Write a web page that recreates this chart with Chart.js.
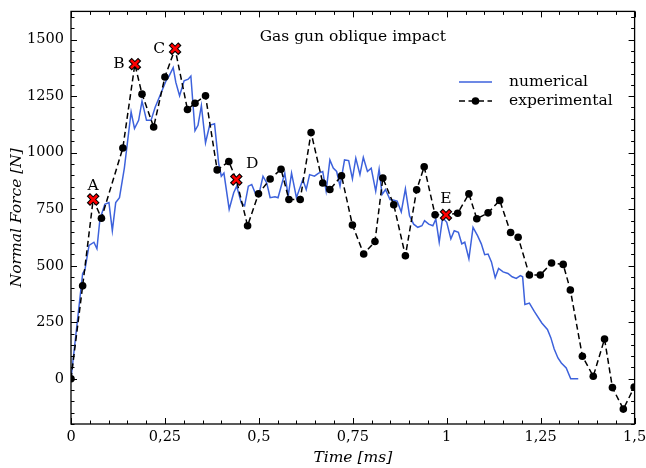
<!DOCTYPE html>
<html><head><meta charset="utf-8">
<script src="https://cdn.jsdelivr.net/npm/chart.js@4.4.0/dist/chart.umd.min.js"></script>
<style>html,body{margin:0;padding:0;background:#fff}#wrap{width:646px;height:468px}</style>
</head><body><div id="wrap"><canvas id="c" width="646" height="468"></canvas></div>
<script>
const numTime = [0,0.031,0.037,0.048,0.061,0.069,0.077,0.090,0.101,0.110,
0.119,0.129,0.142,0.160,0.169,0.180,0.189,0.201,0.213,0.224,
0.235,0.253,0.261,0.272,0.279,0.289,0.301,0.312,0.319,0.330,
0.338,0.347,0.358,0.369,0.382,0.393,0.400,0.407,0.421,0.433,
0.441,0.453,0.462,0.472,0.481,0.490,0.499,0.511,0.521,0.530,
0.543,0.551,0.569,0.578,0.587,0.600,0.617,0.626,0.635,0.648,
0.659,0.670,0.679,0.689,0.698,0.707,0.716,0.728,0.739,0.749,
0.758,0.769,0.778,0.789,0.799,0.811,0.820,0.828,0.837,0.849,
0.857,0.868,0.879,0.890,0.901,0.912,0.923,0.934,0.941,0.952,
0.963,0.971,0.980,0.989,1.000,1.011,1.020,1.031,1.040,1.048,
1.059,1.070,1.082,1.092,1.101,1.110,1.119,1.129,1.138,1.150,
1.163,1.174,1.185,1.196,1.202,1.208,1.220,1.233,1.253,1.268,
1.277,1.286,1.296,1.305,1.318,1.330,1.350];
const numForce = [0,466,481,590,604,575,706,772,779,655,
779,801,932,1180,1107,1143,1228,1143,1143,1201,
1245,1318,1339,1376,1311,1252,1318,1325,1339,1097,
1121,1208,1044,1121,1128,953,896,910,750,823,
852,779,765,852,859,823,808,896,866,801,
805,801,910,808,910,801,881,837,903,896,
910,917,830,968,932,917,852,968,965,884,
976,903,979,917,932,830,927,815,837,793,
791,786,738,840,721,684,670,677,699,684,
677,706,604,713,692,619,655,648,597,604,
531,670,633,597,549,552,517,447,488,473,
466,451,444,456,451,329,335,298,247,218,
182,132,92,70,48,0,0];
const expTime = [0,0.031,0.059,0.081,0.138,0.170,0.189,0.220,0.250,0.277,
0.310,0.330,0.358,0.389,0.420,0.440,0.470,0.499,0.530,0.559,
0.580,0.610,0.639,0.670,0.689,0.720,0.749,0.779,0.809,0.830,
0.859,0.890,0.920,0.940,0.969,0.998,1.029,1.059,1.080,1.110,
1.141,1.170,1.190,1.220,1.249,1.279,1.310,1.329,1.361,1.390,
1.420,1.441,1.470,1.499];
const expForce = [0,411,793,710,1021,1392,1259,1114,1335,1460,
1191,1219,1252,924,961,881,677,818,884,927,
793,793,1089,866,837,898,680,552,607,888,
770,544,836,938,725,725,732,818,708,734,
789,647,626,459,459,512,506,393,100,11,
176,-39,-134,-37];
const markIdx = [2,5,9,15,35];
const markLabels = ['A','B','C','D','E'];
const xTicks = [0,0.25,0.5,0.75,1,1.25,1.5];
const yTicks = [0,250,500,750,1000,1250,1500];
const titleText = 'Gas gun oblique impact';
const seriesNames = ['numerical','experimental'];
const xTitle = 'Time [ms]';
const yTitle = 'Normal Force [N]';

const FONT = "'DejaVu Serif', 'Liberation Serif', serif";
const BLUE = '#3d62dc';

const numData = numTime.map((t,i)=>({x:t,y:numForce[i]}));
const expData = expTime.map((t,i)=>({x:t,y:expForce[i]}));
const markData = markIdx.map(i=>({x:expTime[i],y:expForce[i]}));

const labelOffsets = [[0,-14],[-16,0],[-16,0],[16,-16],[0,-16]];

const decor = {
  id:'decor',
  afterDatasetsDraw(chart){
    const {ctx, chartArea:a, scales:{x,y}} = chart;
    ctx.save();
    ctx.strokeStyle='#000'; ctx.lineWidth=1.3;
    ctx.strokeRect(a.left,a.top,a.right-a.left,a.bottom-a.top);
    ctx.lineWidth=1;
    ctx.beginPath();
    for(let k=0;k<=30;k++){
      const v=k*0.05; const px=Math.round(x.getPixelForValue(v))+0.5;
      const L=(k%5===0)?6:3.5;
      ctx.moveTo(px,a.bottom); ctx.lineTo(px,a.bottom-L);
      ctx.moveTo(px,a.top); ctx.lineTo(px,a.top+L);
    }
    for(let v=-200;v<=1600;v+=50){
      const py=Math.round(y.getPixelForValue(v))+0.5;
      const L=(v%250===0)?6:3.5;
      ctx.moveTo(a.left,py); ctx.lineTo(a.left+L,py);
      ctx.moveTo(a.right,py); ctx.lineTo(a.right-L,py);
    }
    ctx.stroke();
    ctx.fillStyle='#000';
    ctx.font='15.5px '+FONT;
    ctx.textAlign='center'; ctx.textBaseline='middle';
    markIdx.forEach((idx,k)=>{
      const px=x.getPixelForValue(expTime[idx]), py=y.getPixelForValue(expForce[idx]);
      ctx.fillText(markLabels[k], px+labelOffsets[k][0], py+labelOffsets[k][1]);
    });
    ctx.fillText(titleText,(a.left+a.right)/2,a.top+26);
    const lx0=459, lx1=492, ly1=82, ly2=101;
    ctx.strokeStyle=BLUE; ctx.lineWidth=1.5;
    ctx.beginPath(); ctx.moveTo(lx0,ly1); ctx.lineTo(lx1,ly1); ctx.stroke();
    ctx.strokeStyle='#000'; ctx.setLineDash([6,3.5]);
    ctx.beginPath(); ctx.moveTo(lx0,ly2); ctx.lineTo(lx1,ly2); ctx.stroke();
    ctx.setLineDash([]);
    ctx.beginPath(); ctx.arc((lx0+lx1)/2,ly2,3.8,0,Math.PI*2); ctx.fill();
    ctx.textAlign='left';
    ctx.fillText(seriesNames[0],509,ly1);
    ctx.fillText(seriesNames[1],509,ly2);
    ctx.font='italic 15.5px '+FONT;
    ctx.textAlign='center';
    ctx.fillText(xTitle,(a.left+a.right)/2,458);
    ctx.translate(17,(a.top+a.bottom)/2); ctx.rotate(-Math.PI/2);
    ctx.fillText(yTitle,0,0);
    ctx.restore();
  }
};

new Chart(document.getElementById('c'),{
  type:'scatter',
  data:{datasets:[
    {label:seriesNames[0],data:numData,showLine:true,borderColor:BLUE,borderWidth:1.5,pointRadius:0,order:4,tension:0},
    {label:seriesNames[1],data:expData,showLine:true,borderColor:'#000',borderWidth:1.5,borderDash:[6,3.5],
      pointRadius:(c)=>markIdx.includes(c.dataIndex)?0:3.8,pointBackgroundColor:'#000',pointBorderWidth:0,order:3},
    {label:'markBlack',data:markData,showLine:false,pointStyle:'crossRot',pointRadius:6.8,pointBorderWidth:4.6,pointBorderColor:'#000',order:2},
    {label:'markRed',data:markData,showLine:false,pointStyle:'crossRot',pointRadius:5.6,pointBorderWidth:2.6,pointBorderColor:'#ff0000',order:1}
  ]},
  options:{
    responsive:false, animation:false, devicePixelRatio:1, events:[],
    layout:{padding:{top:7,right:7,left:0,bottom:0}},
    plugins:{legend:{display:false},tooltip:{enabled:false},title:{display:false}},
    scales:{
      x:{type:'linear',min:0,max:1.5,
        afterBuildTicks:s=>{s.ticks=xTicks.map(v=>({value:v}));},
        afterFit:s=>{s.height=44;s.paddingLeft=0;s.paddingRight=0;},
        ticks:{callback:v=>String(v).replace('.',','),font:{family:FONT,size:14.5},color:'#000',padding:5,maxRotation:0,autoSkip:false},
        grid:{display:false,drawTicks:false},border:{display:false}},
      y:{type:'linear',min:-200,max:1625,
        afterBuildTicks:s=>{s.ticks=yTicks.map(v=>({value:v}));},
        afterFit:s=>{s.width=71;s.paddingTop=0;s.paddingBottom=0;},
        ticks:{callback:v=>String(v),font:{family:FONT,size:14.5},color:'#000',padding:7,autoSkip:false},
        grid:{display:false,drawTicks:false},border:{display:false}}
    }
  },
  plugins:[decor]
});
</script></body></html>
